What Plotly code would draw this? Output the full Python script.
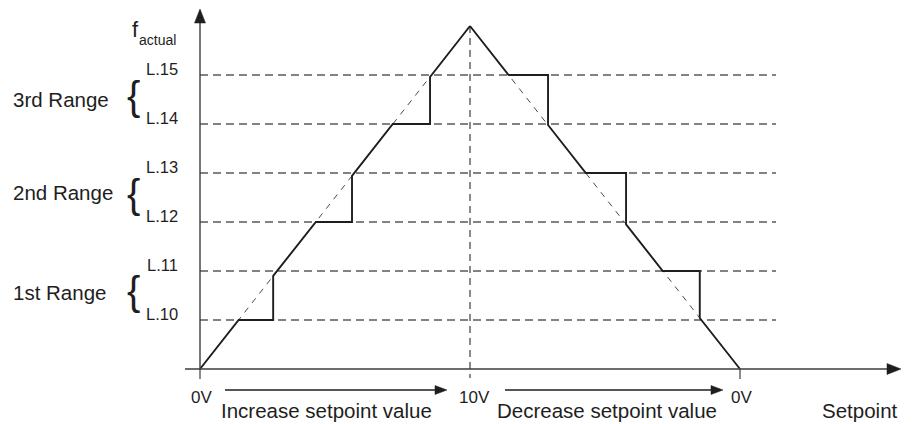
import plotly.graph_objects as go

# Output frequency levels and their parameter names
level_names = ["L.10", "L.11", "L.12", "L.13", "L.14", "L.15"]
level_values = [1, 2, 3, 4, 5, 6]
peak_level = 7

# Each range spans a pair of levels
range_names = ["1st Range", "2nd Range", "3rd Range"]
range_levels = [(1, 2), (3, 4), (5, 6)]

# Sweep position: 0 -> 10 V while increasing, 10 -> 0 V while decreasing
sweep_ticks = [0, 10, 20]
sweep_tick_labels = ["0V", "10V", "0V"]

# Ideal (linear) characteristic
ideal_x = [0, 10, 20]
ideal_y = [0, 7, 0]

# Actual frequency with hysteresis steps, rising setpoint
rise_x = [0, 1.43, 2.71, 2.71, 4.29, 5.63, 5.63, 7.14, 8.52, 8.52, 10]
rise_y = [0, 1, 1, 1.9, 3, 3, 3.94, 5, 5, 5.96, 7]

# Actual frequency with hysteresis steps, falling setpoint
fall_x = [10, 11.43, 12.89, 12.89, 14.29, 15.78, 15.78, 17.14, 18.51, 18.51, 20]
fall_y = [7, 6, 6, 4.98, 4, 4, 2.95, 2, 2, 1.04, 0]

W, H = 915, 424
FONT = "Liberation Sans, Arial, Helvetica, sans-serif"
INK = "#1e1e1e"
AXIS = "#3c3c3c"

# pixel layout of the drawing: origin and scale of both axes
ORIGIN_PX, ORIGIN_PY = 200, 369
PX_PER_X, PX_PER_Y = 27.0, 49.0
x_range = [-ORIGIN_PX / PX_PER_X, (W - ORIGIN_PX) / PX_PER_X]
y_range = [-(H - ORIGIN_PY) / PX_PER_Y, ORIGIN_PY / PX_PER_Y]


def dx(px):
    return (px - ORIGIN_PX) / PX_PER_X


def dy(py):
    return (ORIGIN_PY - py) / PX_PER_Y


fig = go.Figure()

# dashed level lines
grid_end = dx(776)
for lv in level_values:
    fig.add_trace(go.Scatter(
        x=[0, grid_end], y=[lv, lv], mode="lines",
        line=dict(color="#5a5a5a", width=1.3, dash="8px,5px"),
        hoverinfo="skip", showlegend=False))

# dashed vertical at 10 V
fig.add_trace(go.Scatter(
    x=[sweep_ticks[1], sweep_ticks[1]], y=[peak_level, dy(378)], mode="lines",
    line=dict(color="#2a2a2a", width=1.1, dash="7px,5px"),
    hoverinfo="skip", showlegend=False))

# ideal characteristic
fig.add_trace(go.Scatter(
    x=ideal_x, y=ideal_y, mode="lines",
    line=dict(color="#333333", width=0.9, dash="6px,6px"),
    hoverinfo="skip", showlegend=False))

# actual stepped characteristic
for xs, ys in ((rise_x, rise_y), (fall_x, fall_y)):
    fig.add_trace(go.Scatter(
        x=xs, y=ys, mode="lines",
        line=dict(color=INK, width=1.9),
        hoverinfo="skip", showlegend=False))

shapes = []
# axes
shapes.append(dict(type="line", x0=0, x1=0, y0=0, y1=dy(20),
                   line=dict(color=AXIS, width=1.4)))
shapes.append(dict(type="line", x0=dx(185), x1=dx(889), y0=0, y1=0,
                   line=dict(color=AXIS, width=1.4)))
# tick marks under the 0V positions
for t in (sweep_ticks[0], sweep_ticks[2]):
    shapes.append(dict(type="line", x0=t, x1=t, y0=0, y1=dy(379),
                       line=dict(color=AXIS, width=1.2)))


def arrow_head(x, y, direction, length, half):
    if direction == "up":
        path = f"M0,0 L{-half},{-length} L{half},{-length} Z"
    else:
        path = f"M0,0 L{-length},{half} L{-length},{-half} Z"
    return dict(type="path", xsizemode="pixel", ysizemode="pixel",
                xanchor=x, yanchor=y, path=path,
                fillcolor=INK, line=dict(color=INK, width=0.5))


shapes.append(arrow_head(0, dy(9), "up", 14, 5.5))
shapes.append(arrow_head(dx(901), 0, "right", 14, 5.5))

# direction arrows under the axis
arrow_y = dy(390)
for x_start, x_tip in ((dx(225), dx(447)), (dx(505), dx(723))):
    shapes.append(dict(type="line", x0=x_start, x1=x_tip - 10 / PX_PER_X,
                       y0=arrow_y, y1=arrow_y,
                       line=dict(color=INK, width=1.3)))
    shapes.append(arrow_head(x_tip, arrow_y, "right", 12, 4.5))

annotations = []
# level labels
for name, lv in zip(level_names, level_values):
    annotations.append(dict(x=dx(180), y=lv, yshift=6, text=name,
                            xanchor="right", yanchor="middle", showarrow=False,
                            font=dict(family=FONT, size=16.5, color=INK)))

# range labels with braces
range_text_py = [292, 192, 99]
brace_py = [291, 194, 96]
for name, tpy, bpy in zip(range_names, range_text_py, brace_py):
    annotations.append(dict(x=dx(11), y=dy(tpy), text=name,
                            xanchor="left", yanchor="middle", showarrow=False,
                            font=dict(family=FONT, size=20.5, color=INK)))
    annotations.append(dict(x=dx(133), y=dy(bpy), text="{",
                            xanchor="center", yanchor="middle", showarrow=False,
                            font=dict(family=FONT, size=40, color=INK)))

# y axis title: f with subscript
annotations.append(dict(x=dx(135), y=dy(29), text="f", xanchor="center",
                        yanchor="middle", showarrow=False,
                        font=dict(family=FONT, size=22, color=INK)))
annotations.append(dict(x=dx(137), y=dy(40), text="actual", xanchor="left",
                        yanchor="middle", showarrow=False,
                        font=dict(family=FONT, size=14, color=INK)))

# sweep tick labels
for t, lab in zip(sweep_ticks, sweep_tick_labels):
    annotations.append(dict(x=t, y=dy(397), text=lab, xanchor="center",
                            yanchor="middle", showarrow=False,
                            xshift=4 if t == sweep_ticks[1] else 1,
                            font=dict(family=FONT, size=17, color=INK)))

# direction captions and x axis title
for text, px in (("Increase setpoint value", 219),
                 ("Decrease setpoint value", 495),
                 ("Setpoint", 820)):
    annotations.append(dict(x=dx(px), y=dy(410), text=text, xanchor="left",
                            yanchor="middle", showarrow=False,
                            font=dict(family=FONT, size=20.5, color=INK)))

fig.update_layout(
    width=W, height=H,
    margin=dict(l=0, r=0, t=0, b=0),
    paper_bgcolor="white", plot_bgcolor="white",
    xaxis=dict(range=x_range, visible=False, fixedrange=True),
    yaxis=dict(range=y_range, visible=False, fixedrange=True),
    shapes=shapes, annotations=annotations,
    showlegend=False,
)

fig.write_html("out.html", config={"displayModeBar": False})
